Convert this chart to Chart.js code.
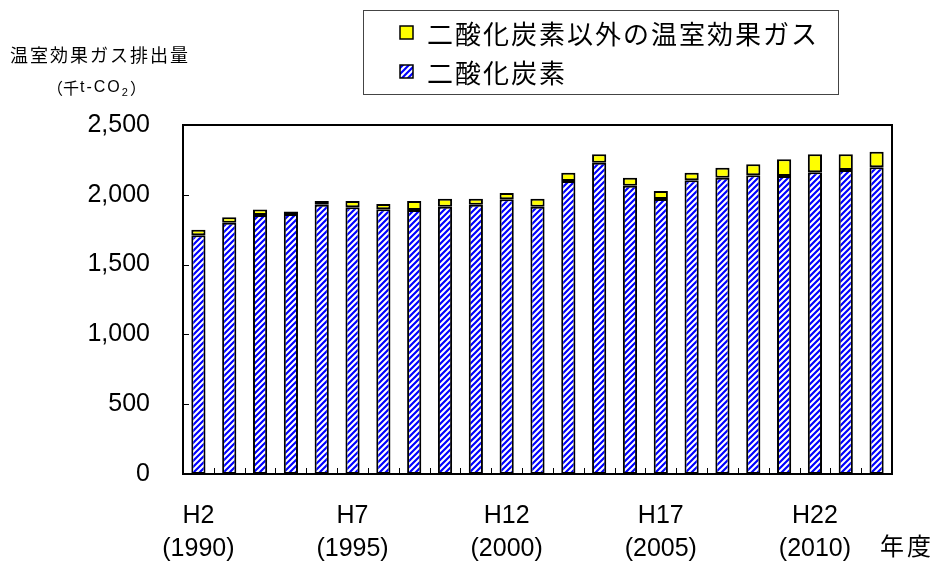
<!DOCTYPE html>
<html>
<head>
<meta charset="utf-8">
<script src="https://cdn.jsdelivr.net/npm/chart.js@4.4.1/dist/chart.umd.min.js"></script>
<style>
  html, body { margin: 0; padding: 0; background: #fff; }
  #wrap { width: 936px; height: 567px; position: relative; }
</style>
</head>
<body>
<div id="wrap"><canvas id="myChart"></canvas></div>
<script>
// 年度 (1990 - 2012)
const years = [1990, 1991, 1992, 1993, 1994, 1995, 1996, 1997, 1998, 1999, 2000, 2001,
               2002, 2003, 2004, 2005, 2006, 2007, 2008, 2009, 2010, 2011, 2012];
// 二酸化炭素 (千t-CO2)
const co2 = [1710, 1800, 1855, 1862, 1928, 1910, 1896, 1891, 1915, 1929, 1968, 1915,
             2099, 2230, 2065, 1970, 2104, 2123, 2140, 2135, 2161, 2178, 2197];
// 二酸化炭素以外の温室効果ガス
const others = [40, 40, 40, 18, 28, 46, 38, 65, 57, 43, 45, 57,
                59, 60, 58, 57, 54, 71, 78, 119, 129, 112, 112];
// labelled years on the x axis
const labelYears = [1990, 1995, 2000, 2005, 2010];
const eraNames = ['H2', 'H7', 'H12', 'H17', 'H22'];
const yTicks = [0, 500, 1000, 1500, 2000, 2500];

const jpFont = '"Noto Sans CJK JP", sans-serif';
const numFont = '"Liberation Sans", Arial, sans-serif';

// blue diagonal hatch
function makeHatch() {
    const c = document.createElement('canvas');
    c.width = 6; c.height = 6;
    const g = c.getContext('2d');
    g.fillStyle = '#ffffff';
    g.fillRect(0, 0, 6, 6);
    g.strokeStyle = '#0000ff';
    g.lineWidth = 2.2;
    g.beginPath();
    g.moveTo(-1, 7); g.lineTo(7, -1);
    g.moveTo(-4, 4); g.lineTo(4, -4);
    g.moveTo(2, 10); g.lineTo(10, 2);
    g.stroke();
    return g.createPattern(c, 'repeat');
}
const hatch = makeHatch();

const extras = {
    id: 'extras',
    afterDatasetsDraw(chart) {
        const { ctx, chartArea: a, scales: { x, y } } = chart;
        ctx.save();
        // inward tick marks
        ctx.strokeStyle = '#000';
        ctx.lineWidth = 1;
        ctx.beginPath();
        yTicks.forEach(v => {
            const py = Math.round(y.getPixelForValue(v)) + 0.5;
            ctx.moveTo(a.left, py);
            ctx.lineTo(a.left + 6, py);
        });
        const step = x.getPixelForValue(1) - x.getPixelForValue(0);
        for (let i = 0; i <= years.length; i++) {
            const px = Math.round(x.getPixelForValue(i) - step / 2) + 0.5;
            ctx.moveTo(px, a.bottom);
            ctx.lineTo(px, a.bottom - 6);
        }
        ctx.stroke();
        // plot frame
        ctx.lineWidth = 2;
        ctx.strokeRect(a.left, a.top, a.right - a.left, a.bottom - a.top);

        // legend box
        ctx.lineWidth = 1;
        ctx.strokeStyle = '#444';
        ctx.strokeRect(363.5, 10.5, 475, 84);
        const items = [chart.data.datasets[1], chart.data.datasets[0]];
        ctx.font = '26px ' + jpFont;
        ctx.letterSpacing = '2px';
        ctx.textBaseline = 'middle';
        ctx.textAlign = 'left';
        items.forEach((ds, i) => {
            const cy = 33 + i * 39;
            ctx.fillStyle = ds.backgroundColor;
            ctx.fillRect(400, cy - 7, 13, 13);
            ctx.strokeStyle = '#000';
            ctx.lineWidth = 1.5;
            ctx.strokeRect(400, cy - 7, 13, 13);
            ctx.fillStyle = '#000';
            ctx.fillText(ds.label, 427, cy + 1);
        });

        // y axis title
        ctx.font = '18px ' + jpFont;
        ctx.letterSpacing = '2px';
        ctx.fillText('温室効果ガス排出量', 10, 55);
        ctx.letterSpacing = '0px';
        let tx = 55;
        ctx.font = '16px ' + jpFont;
        ctx.fillText('（', tx - 8, 88);
        tx += 8;
        ctx.fillText('千', tx, 88);
        tx += ctx.measureText('千').width + 1;
        ctx.font = '16px ' + numFont;
        ctx.letterSpacing = '2px';
        ctx.fillText('t-CO', tx, 88);
        tx += ctx.measureText('t-CO').width;
        ctx.font = '11px ' + numFont;
        ctx.fillText('2', tx, 93);
        tx += ctx.measureText('2').width;
        ctx.font = '16px ' + jpFont;
        ctx.fillText('）', tx, 88);

        // x axis unit
        ctx.font = '24px ' + jpFont;
        ctx.letterSpacing = '3px';
        ctx.fillText('年度', 880, 546);
        ctx.restore();
    }
};

const ctx = document.getElementById('myChart').getContext('2d');
const myChart = new Chart(ctx, {
    type: 'bar',
    data: {
        labels: years,
        datasets: [
            {
                label: '二酸化炭素',
                data: co2,
                backgroundColor: hatch,
                borderColor: '#000',
                borderWidth: 2,
                borderSkipped: false,
            },
            {
                label: '二酸化炭素以外の温室効果ガス',
                data: others,
                backgroundColor: '#ffff00',
                borderColor: '#000',
                borderWidth: 2,
                borderSkipped: false,
            },
        ],
    },
    options: {
        responsive: true,
        maintainAspectRatio: false,
        animation: false,
        barPercentage: 0.46,
        categoryPercentage: 1,
        plugins: {
            legend: { display: false },
            tooltip: { enabled: false },
        },
        layout: {
            padding: { top: 125, right: 44, bottom: 0, left: 0 }
        },
        scales: {
            x: {
                stacked: true,
                grid: { display: false },
                border: { display: false },
                ticks: {
                    autoSkip: false,
                    maxRotation: 0,
                    padding: 18,
                    color: '#000',
                    font: { family: numFont, size: 25, lineHeight: 1.3 },
                    callback: function (value, index) {
                        const k = labelYears.indexOf(years[index]);
                        return k >= 0 ? [eraNames[k], '(' + labelYears[k] + ')'] : '';
                    },
                },
                afterFit: function (scale) { scale.height = 93; },
            },
            y: {
                stacked: true,
                min: 0,
                max: 2500,
                grid: { display: false },
                border: { display: false },
                ticks: {
                    stepSize: 500,
                    padding: 25,
                    color: '#000',
                    font: { family: numFont, size: 25 },
                    callback: function (value) { return value.toLocaleString('en-US'); },
                },
                afterFit: function (scale) { scale.width = 183; },
            },
        },
    },
    plugins: [extras],
});
</script>
</body>
</html>
